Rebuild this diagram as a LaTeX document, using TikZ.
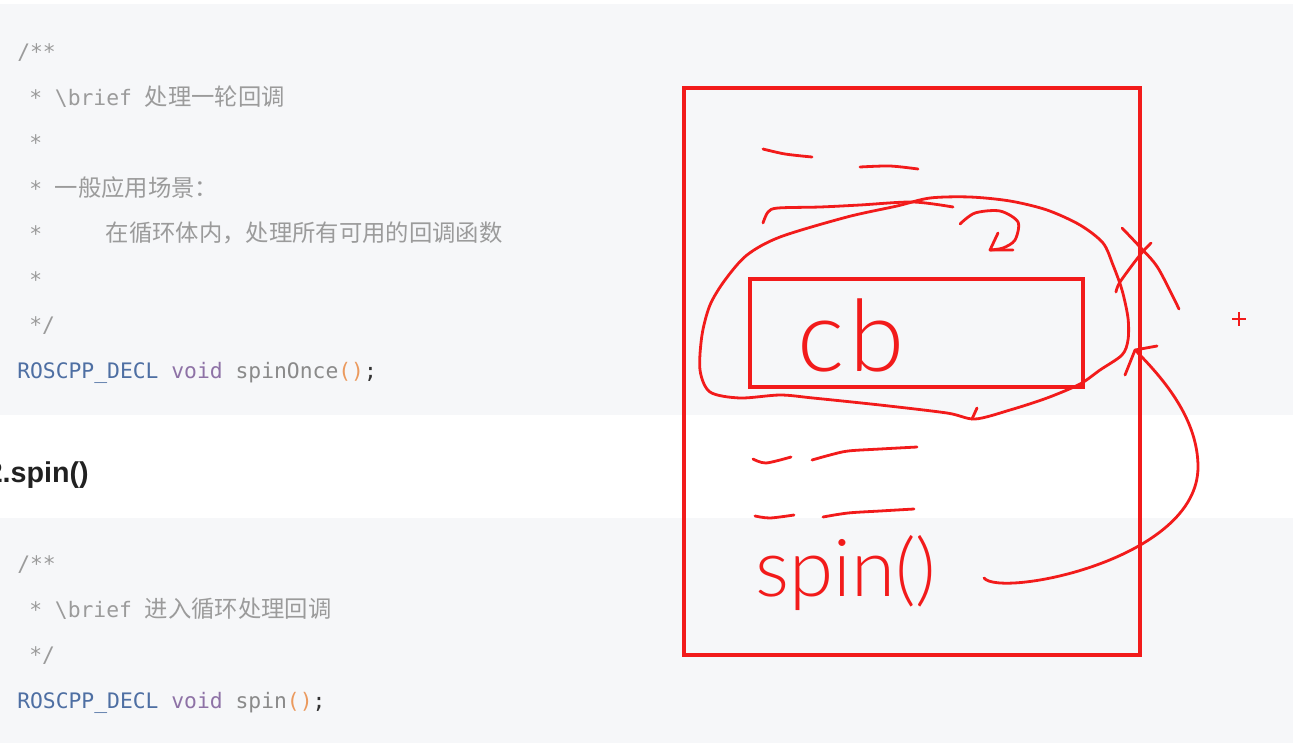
\documentclass[tikz,border=0pt]{standalone}
\usepackage{fontspec}
\setmainfont{Liberation Sans}
\newfontfamily\codefont{DejaVu Sans Mono}
\newfontfamily\cjk{Noto Sans CJK SC}
\newfontfamily\handfont{Lato Light}
\definecolor{pagegray}{HTML}{F6F7F9}
\definecolor{cmt}{HTML}{9B9B9B}
\definecolor{kwblue}{HTML}{4E6FA3}
\definecolor{kwpurple}{HTML}{8E72A6}
\definecolor{fngray}{HTML}{8A8A8A}
\definecolor{paren}{HTML}{EB9A5E}
\definecolor{semi}{HTML}{333333}
\definecolor{ink}{HTML}{F21B1B}
\newcommand\zh[1]{{\cjk\fontsize{17.5}{20}\selectfont #1}}
\begin{document}
\begin{tikzpicture}[x=0.75pt,y=-0.75pt,
  code/.style={anchor=base west,inner sep=0pt,font=\codefont\fontsize{16}{18}\selectfont,text=cmt},
  cjktext/.style={anchor=base west,inner sep=0pt,font=\cjk\fontsize{17.5}{20}\selectfont,text=cmt},
  pen/.style={draw=ink,line width=2.1pt,line cap=round,line join=round},
  frame/.style={draw=ink,line width=2.3pt,inner sep=0pt,outer sep=0pt,anchor=north west},
  hand/.style={text=ink,inner sep=0pt,anchor=base west},
]
\useasboundingbox (0,0) rectangle (1293,747);
\fill[white] (0,0) rectangle (1293,747);
\fill[pagegray] (0,4) rectangle (1293,415);
\fill[pagegray] (0,518) rectangle (1293,743);

% first code block
\node[code] (c0) at (17,59) {/**};
\node[code] (c1) at (29,105) {* \textbackslash brief \zh{处理一轮回调}};
\node[code] (c2) at (29,150) {*};
\node[code] (c3) at (29,196) {* \zh{一般应用场景：}};
\node[code] (c4) at (29,241) {*};
\node[cjktext] (c4b) at (105.5,241) {在循环体内，处理所有可用的回调函数};
\node[code] (c5) at (29,287) {*};
\node[code] (c6) at (29,332) {*/};
\node[code] (c7) at (17,378) {\textcolor{kwblue}{ROSCPP\_DECL} \textcolor{kwpurple}{void} \textcolor{fngray}{spinOnce}\textcolor{paren}{()}\textcolor{semi}{;}};

% heading
\node[anchor=base east,inner sep=0pt,font=\bfseries\fontsize{21.5}{26}\selectfont,text=black!87] (head) at (89,482) {2.spin()};

% second code block
\node[code] (d0) at (17,571) {/**};
\node[code] (d1) at (29,617) {* \textbackslash brief \zh{进入循环处理回调}};
\node[code] (d2) at (29,662) {*/};
\node[code] (d3) at (17,708) {\textcolor{kwblue}{ROSCPP\_DECL} \textcolor{kwpurple}{void} \textcolor{fngray}{spin}\textcolor{paren}{()}\textcolor{semi}{;}};

% red frames
\node[frame,minimum width=342pt,minimum height=425.25pt] (outer) at (684,88) {};
\node[frame,minimum width=249.75pt,minimum height=81pt] (cbbox) at (750,279) {};

% handwritten texts
\node[hand,font=\handfont\fontsize{75}{80}\selectfont] (cb) at (797,371) {c\hspace{4pt}b};
\node[hand,font=\handfont\fontsize{60}{64}\selectfont] (spin) at (755,596) {spin()};

% dashes (code lines)
\draw[pen] plot[smooth] coordinates {(763,149) (785,154) (812,157)};
\draw[pen] plot[smooth] coordinates {(860,167) (890,166) (918,169)};
\draw[pen] plot[smooth] coordinates {(763,223) (768,212) (778,208) (820,207) (860,205) (913,202) (953,207)};
\draw[pen] plot[smooth] coordinates {(753,459) (766,463) (791,457)};
\draw[pen] plot[smooth] coordinates {(812,460) (830,455) (848,451) (880,449) (917,447)};
\draw[pen] plot[smooth] coordinates {(755,516) (770,518) (794,515)};
\draw[pen] plot[smooth] coordinates {(823,517) (848,513) (880,511) (914,509)};

% loop around cb
\draw[pen] plot[smooth cycle] coordinates {(847,217) (897,206) (930,198) (970,197) (1010,201) (1047,210) (1080,225) (1103,243) (1113,265) (1122,290) (1128,318) (1128,340) (1122,355) (1100,370) (1080,384) (1047,398) (1010,410) (975,419) (947,413) (880,405) (813,398) (780,395) (740,398) (710,392) (700,370) (702,335) (710,305) (725,280) (747,255) (780,237)};
\draw[pen] (977,408) -- (972,419);

% curl arrow
\draw[pen] plot[smooth] coordinates {(960,224) (975,213) (1000,211) (1018,222) (1015,240) (1003,248) (990,250)};
\draw[pen] (998,233) -- (990,250) -- (1013,250);

% X mark
\draw[pen] plot[smooth] coordinates {(1122,228) (1140,247) (1158,268) (1179,309)};
\draw[pen] plot[smooth] coordinates {(1151,243) (1140,255) (1120,282) (1116,292)};

% arrow from spin() back to loop
\coordinate (spinEnd) at (984,578);
\coordinate (loopHit) at (1135,350);
\draw[pen] (spinEnd) .. controls (1000,598) and (1198,560) .. (1198,467)
  .. controls (1198,420) and (1165,380) .. (loopHit);
\draw[pen] (1157,346) -- (loopHit) -- (1125,375);

% cursor plus
\draw[ink,line width=1.8pt] (1232,319) -- (1246,319) (1239,312) -- (1239,326);
\end{tikzpicture}
\end{document}
